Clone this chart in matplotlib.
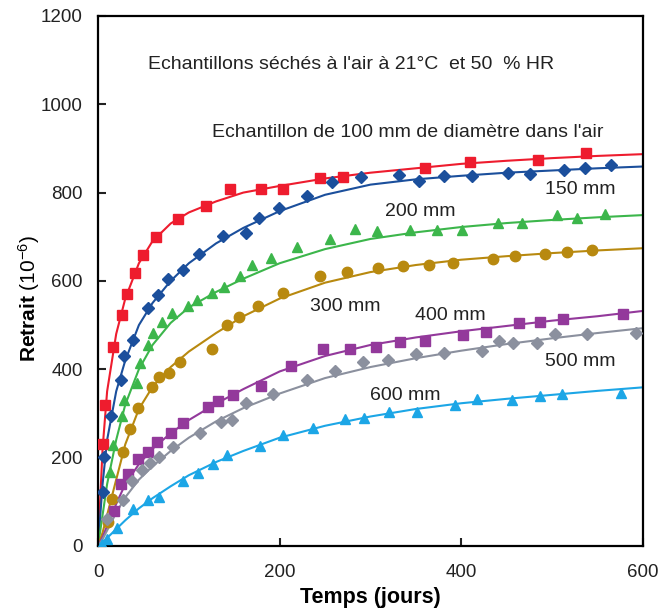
import matplotlib
matplotlib.use("Agg")
import matplotlib.pyplot as plt
import numpy as np

plt.rcParams['font.family'] = ['Liberation Sans', 'DejaVu Sans']
plt.rcParams['mathtext.fontset'] = 'custom'
plt.rcParams['mathtext.rm'] = 'Liberation Sans'
plt.rcParams['mathtext.it'] = 'Liberation Sans:italic'
plt.rcParams['mathtext.bf'] = 'Liberation Sans:bold'

# ---- measured points (days, shrinkage x1e-6) ----
d100 = [5.8, 7.7, 16.2, 26.1, 31.6, 40.7, 49.9, 63.5, 87.7, 118.6, 145, 180, 204, 244, 270, 360, 410, 485, 537]
v100 = [231, 319, 451, 523, 571, 619, 659, 700, 740, 770, 808, 808, 808, 832, 836, 856, 869, 874, 889]

d150 = [5.8, 6.9, 14.3, 25.3, 29, 38.2, 55.4, 65.7, 77.4, 93.3, 111.5, 138, 162.6, 177.6, 199.6, 229.8, 257.3, 290, 331, 353, 381, 412, 452, 476, 513, 536, 565]
v150 = [121, 202, 293, 376, 429, 466, 539, 567, 604, 625, 661, 702, 708, 743, 765, 793, 823, 836, 840, 827, 838, 838, 845, 842, 850, 855, 863]

d200 = [13.2, 16.8, 26.1, 29, 42.6, 46.2, 54.7, 60.9, 70.1, 81.5, 98.8, 108.7, 125.2, 139, 156.3, 170, 191, 218.8, 255.4, 283, 306.8, 344, 373.6, 400.4, 440, 466.5, 505, 527.7, 558]
v200 = [168, 229, 293, 331, 368, 414, 455, 482, 508, 527, 544, 557, 572, 587, 612, 636, 651, 676, 694, 717, 714, 715, 715, 715, 732, 731, 749, 742, 752]

d300 = [11.3, 15.1, 27.2, 35.2, 44.4, 59.1, 67.5, 78.5, 90.3, 125.2, 141.7, 155.6, 175.8, 204, 244.4, 273.8, 308.6, 336, 364.7, 391, 434.5, 459, 492, 516, 544]
v300 = [55, 106, 212, 265, 312, 359, 382, 392, 417, 445, 500, 518, 543, 573, 610, 621, 629, 634, 635, 640, 650, 657, 661, 665, 669]

d400 = [18, 25.3, 32.7, 44.4, 54.7, 64.6, 80, 94, 121.4, 132.4, 148.3, 180, 213, 247.4, 277.4, 306, 332.5, 360, 402, 427, 463.5, 486.6, 512, 578]
v400 = [79, 140, 163, 196, 213, 236, 255, 278, 314, 329, 342, 362, 408, 446, 446, 451, 461, 465, 478, 484, 504, 508, 514, 525]

d500 = [10, 27.2, 37.1, 48.1, 57.3, 67.5, 82.9, 112.3, 135.4, 147.2, 162.6, 192.3, 230.4, 261, 292, 319.3, 349.8, 381.3, 423, 441.5, 457.3, 483, 503, 538, 592]
v500 = [60, 104, 146, 172, 187, 202, 225, 255, 281, 284, 324, 343, 376, 395, 417, 422, 435, 436, 442, 465, 460, 460, 480, 480, 482]

d600 = [4, 9.6, 20.6, 38.9, 55.4, 67.5, 94, 110.4, 127, 141.7, 178.4, 203.4, 236.4, 272, 293, 320.7, 350.9, 393, 417, 455.5, 486.6, 510.5, 575.4]
v600 = [5, 15, 40, 83, 104, 110, 146, 165, 186, 206, 227, 251, 266, 287, 289, 303, 303, 319, 332, 331, 340, 343, 347]

# ---- fitted curves ----
tc = [0, 5, 10, 20, 30, 45, 60, 80, 100, 130, 160, 200, 250, 300, 350, 400, 450, 500, 550, 600]
c100 = [0, 220, 350, 480, 560, 640, 690, 730, 755, 780, 800, 815, 832, 845, 855, 865, 872, 878, 883, 887]
c150 = [0, 140, 240, 350, 420, 500, 550, 600, 640, 685, 720, 758, 795, 818, 830, 838, 845, 850, 855, 859]
c200 = [0, 70, 140, 240, 320, 400, 455, 505, 540, 575, 605, 640, 672, 695, 710, 722, 731, 738, 744, 749]
c300 = [0, 30, 70, 150, 230, 310, 360, 405, 440, 482, 520, 560, 596, 620, 636, 648, 656, 663, 669, 674]
c400 = [0, 20, 45, 95, 140, 185, 220, 255, 285, 322, 355, 395, 430, 455, 472, 486, 498, 510, 520, 532]
c500 = [0, 15, 35, 75, 110, 150, 180, 215, 245, 282, 312, 345, 380, 405, 425, 442, 457, 470, 482, 493]
c600 = [0, 8, 18, 38, 58, 85, 108, 135, 160, 190, 215, 245, 272, 293, 310, 323, 333, 342, 351, 359]

series = [
    (d100, v100, c100, '#ee1c2e', 's', 7),
    (d150, v150, c150, '#1b4f9c', 'D', 6.5),
    (d200, v200, c200, '#3cb64b', '^', 7.5),
    (d300, v300, c300, '#b8890f', 'o', 7.5),
    (d400, v400, c400, '#93399b', 's', 7),
    (d500, v500, c500, '#8b909e', 'D', 6.5),
    (d600, v600, c600, '#1ca6e6', '^', 7.5),
]

fig = plt.figure(figsize=(6.58, 6.12), dpi=100)
ax = fig.add_axes([0.149, 0.108, 0.828, 0.866])

for d, v, c, col, m, ms in series:
    ax.plot(tc, c, color=col, lw=1.5, zorder=2)
    ax.plot(d, v, ls='none', marker=m, color=col, ms=ms, mec=col, zorder=3)

ax.set_xlim(0, 600)
ax.set_ylim(0, 1200)
ax.set_xticks([0, 200, 400, 600])
ax.set_yticks([0, 200, 400, 600, 800, 1000, 1200])
ax.tick_params(direction='in', length=6, width=1.5, labelsize=13.5, colors='#222222')
ax.tick_params(axis='y', pad=11)
ax.tick_params(axis='x', pad=13)
for s in ax.spines.values():
    s.set_linewidth(1.6)

ax.set_xlabel('Temps (jours)', fontsize=15.5, fontweight='bold')
ax.xaxis.set_label_coords(0.5, -0.078)
ax.set_ylabel(r'Retrait $\mathrm{(10^{-6})}$', fontsize=15, fontweight='bold')
ax.yaxis.set_label_coords(-0.102, 0.466)

tk = dict(fontsize=14, color='#222222')
ax.text(55, 1089, "Echantillons séchés à l'air à 21°C  et 50  % HR", va='center', **tk)
ax.text(125.5, 935, "Echantillon de 100 mm de diamètre dans l'air", va='center', **tk)
ax.text(492, 806, '150 mm', va='center', **tk)
ax.text(316, 758, '200 mm', va='center', **tk)
ax.text(233, 543, '300 mm', va='center', **tk)
ax.text(349, 521, '400 mm', va='center', **tk)
ax.text(492, 417, '500 mm', va='center', **tk)
ax.text(299.5, 340, '600 mm', va='center', **tk)

fig.savefig('out.png', dpi=100)
